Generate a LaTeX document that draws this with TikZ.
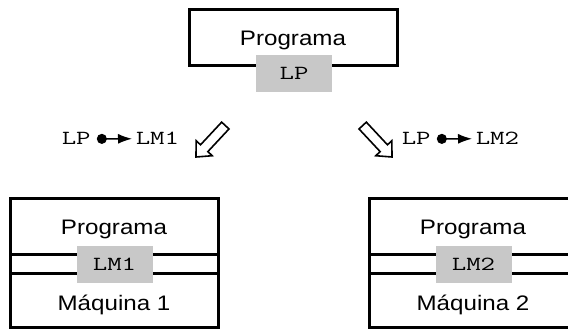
\documentclass[tikz,border=0pt]{standalone}
\usepackage{fontspec}
\setmainfont{Liberation Sans}[FakeStretch=1.15]
\setmonofont{Latin Modern Mono}[FakeStretch=1.4]
\usetikzlibrary{arrows.meta}
\definecolor{boxgray}{RGB}{200,200,200}
\begin{document}
\begin{tikzpicture}[x=1pt,y=-1pt,
  frame/.style={draw=black, line width=3pt, inner sep=0pt},
  tag/.style={fill=boxgray, inner sep=0pt, minimum width=76pt, minimum height=37pt, font=\fontsize{20}{20}\ttfamily},
  lbl/.style={inner sep=0pt, font=\fontsize{21}{21}\selectfont},
  code/.style={inner sep=0pt, font=\fontsize{20}{20}\ttfamily},
  sep/.style={line width=3pt},
  hollow/.style={draw=black, fill=white, line width=1.6pt, line join=miter},
  link/.style={line width=1.4pt, {Circle[length=10pt]}-{Latex[length=14pt,width=10pt]}}
]
\useasboundingbox (0,0) rectangle (568,331);

% top
\node[frame, minimum width=208pt, minimum height=56pt] (prog0) at (293,38) {};
\node[lbl, anchor=base] (t0) at (293,46) {Programa};
\node[tag] (lp0) at (294,73.5) {LP};

% bottom left
\node[frame, minimum width=208pt, minimum height=128pt] (m1) at (114,263) {};
\draw[sep] (10,254.5) -- (218,254.5);
\draw[sep] (10,273.5) -- (218,273.5);
\node[lbl, anchor=base] (t1) at (114,235) {Programa};
\node[lbl, anchor=base] (q1) at (114,310.5) {Máquina 1};
\node[tag] (lm1) at (114.5,264.5) {LM1};

% bottom right
\node[frame, minimum width=208pt, minimum height=128pt] (m2) at (473,263) {};
\draw[sep] (369,255) -- (577,255);
\draw[sep] (369,274) -- (577,274);
\node[lbl, anchor=base] (t2) at (473,235) {Programa};
\node[lbl, anchor=base] (q2) at (473,310.5) {Máquina 2};
\node[tag] (lm2) at (473.5,264.5) {LM2};

% middle labels
\node[code, anchor=base west] (lpa) at (61.6,145) {LP};
\node[code, anchor=base west] (lma) at (135.6,145) {LM1};
\draw[link, shorten <=6pt, shorten >=3.6pt] (lpa.east) -- (lma.west);
\node[code, anchor=base west] (lpb) at (401.6,145) {LP};
\node[code, anchor=base west] (lmb) at (475.6,145) {LM2};
\draw[link, shorten <=6pt, shorten >=3.6pt] (lpb.east) -- (lmb.west);

% hollow arrows
\begin{scope}[shift={(196,157)}, rotate=-133]
  \draw[hollow] (0,0) -- (-12,11) -- (-12,5) -- (-43,5) -- (-43,-5) -- (-12,-5) -- (-12,-11) -- cycle;
\end{scope}
\begin{scope}[shift={(392,157)}, rotate=-47]
  \draw[hollow] (0,0) -- (-12,11) -- (-12,5) -- (-43,5) -- (-43,-5) -- (-12,-5) -- (-12,-11) -- cycle;
\end{scope}
\end{tikzpicture}
\end{document}
